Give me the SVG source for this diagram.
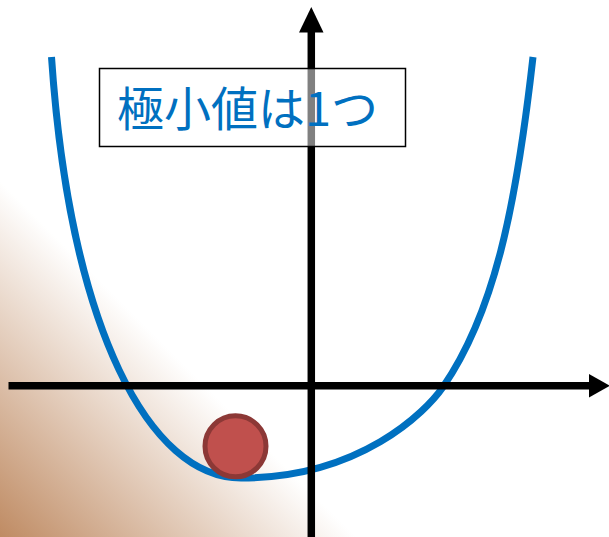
<svg xmlns="http://www.w3.org/2000/svg" width="609" height="537" viewBox="0 0 609 537">
  <defs>
    <linearGradient id="bg" gradientUnits="userSpaceOnUse" x1="0" y1="537" x2="178" y2="359">
      <stop offset="0" stop-color="#BF8B63"/>
      <stop offset="1" stop-color="#FFFFFF"/>
    </linearGradient>
  </defs>
  <style>
    .axis { stroke: #000000; stroke-width: 7.5; fill: none; }
    .head { fill: #000000; }
    .curve { stroke: #0070C0; stroke-width: 7; fill: none; stroke-linejoin: round; }
    .label { font-family: "Noto Sans CJK JP", "Noto Sans", sans-serif; font-size: 47px; fill: #0070C0; }
  </style>
  <rect x="0" y="0" width="609" height="537" fill="url(#bg)"/>

  <g id="curve">
    <path class="curve" d="M51.5,57 C70,330 150,478 241,478 C360,478 426,411.7 443,387 C494,313 516,208.5 533,57"/>
  </g>

  <g id="connectors">
    <line class="axis" x1="8.5" y1="385.7" x2="592" y2="385.7"/>
    <polygon class="head" points="589,374 610,385.7 589,397.5"/>
    <line class="axis" x1="311.3" y1="30" x2="311.3" y2="537"/>
    <polygon class="head" points="311.3,7 299,32.5 323.5,32.5"/>
  </g>

  <g id="ball">
    <circle cx="235.5" cy="446.3" r="30.5" fill="#C0504D" stroke="#8C3836" stroke-width="5"/>
  </g>

  <g id="label">
    <rect x="99.5" y="68.5" width="306" height="78" fill="#FFFFFF" fill-opacity="0.5" stroke="#000000" stroke-width="1.5"/>
    <text class="label" x="117" y="125.5">極小値は1つ</text>
  </g>
</svg>
